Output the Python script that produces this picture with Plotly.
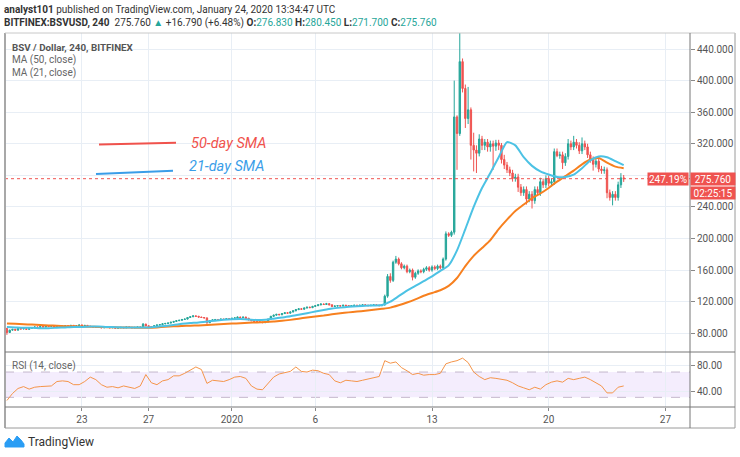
import plotly.graph_objects as go
import pandas as pd

# ---------------- data ----------------
first_open = 86.0
closes = [
    81, 84, 85, 84, 86, 85.5, 86, 85, 86.5, 87,
    88, 87.5, 88.5, 88, 89, 88.5, 89, 88, 89, 88.5,
    89, 89.5, 89, 90, 89, 89.5, 90.5, 89.5, 90, 89,
    88.5, 88, 87.5, 88, 87, 87.5, 88, 87, 87.5, 86.5,
    87, 87.5, 87, 88, 87.5, 87, 87.5, 88, 87.5, 91.5,
    89.5, 88.5, 88.5, 89.5, 90.5, 91, 92, 92.5, 93, 94,
    95, 96, 96.5, 97.5, 98, 100, 101, 102, 101.5, 100.5,
    100, 99.5, 93.5, 96, 97, 97.5, 97, 98, 97.5, 98.5,
    98, 99, 99.5, 100.5, 100, 100.5, 99, 97, 96, 95,
    94.5, 94, 93.5, 94.5, 98, 101.5, 103, 104, 103.5, 105,
    106, 105.5, 107, 108.5, 110, 111, 110.5, 112, 113, 112.5,
    114, 115, 116, 117, 116.5, 117.5, 116, 114, 114.5, 115,
    114.5, 115.5, 115, 114.5, 115, 115.5, 115, 115.5, 116, 115.5,
    115, 115.5, 116, 115.5, 115, 116, 127, 152, 147, 170,
    174, 168, 163, 165, 158, 160, 151, 156, 159, 158,
    161, 163, 160, 164, 162, 165, 163, 174, 206, 204,
    208, 354, 333, 424, 390, 352, 363, 318, 312, 308,
    326, 318, 322, 316, 320, 317, 321, 318, 300, 293,
    287, 283, 276, 278, 265, 258, 262, 250, 256, 248,
    262, 258, 272, 268, 276, 270, 272, 310, 305, 306,
    296, 304, 320, 316, 322, 318, 311, 320, 316, 306,
    300, 294, 298, 288, 286, 287, 258, 252, 256, 252,
    268, 276.83, 275.76,
]
wick_up = [
    1, .6, .6, .6, .6, .6, .6, .6, .6, .6,
    .6, .6, .6, .6, .6, .6, .6, .6, .6, .6,
    .6, .6, .6, .6, .6, .6, .6, .6, .6, .6,
    .6, .6, .6, .6, .6, .6, .6, .6, .6, .6,
    .6, .6, .6, .6, .6, .6, .6, .6, .6, 1.5,
    .8, .6, .6, .6, .6, .6, .6, .6, .6, .6,
    .6, .6, .6, .6, .6, .6, .6, 1, .6, .6,
    .6, .6, .6, .6, .6, .6, .6, .6, .6, .6,
    .6, .6, .6, .6, .6, .6, .6, .6, .6, .6,
    .6, .6, .6, .6, .6, .6, .6, .6, .6, .6,
    .8, .8, .8, .8, .8, .8, .8, .8, .8, .8,
    .8, .8, .8, 1, .8, 1, .8, .8, .8, .8,
    .6, .6, .6, .6, .6, .6, .6, .6, .6, .6,
    .6, .6, .6, .6, .6, .6, 2, 3, 4, 2,
    4, 2, 2, 2, 2, 2, 2, 2, 2, 2,
    2, 2, 2, 2, 2, 2, 2, 2, 3, 2,
    2, 46, 2, 41, 4, 5, 29, 3, 16, 6,
    6, 4, 4, 4, 4, 4, 4, 4, 3, 6,
    4, 4, 4, 4, 4, 4, 4, 4, 4, 4,
    4, 4, 5, 4, 4, 4, 4, 4, 4, 4,
    4, 4, 6, 4, 8, 4, 4, 8, 4, 4,
    4, 4, 4, 4, 4, 4, 3, 4, 4, 4,
    4, 6, 3.62,
]
wick_dn = [
    3, .6, .6, .6, .6, .6, .6, .6, .6, .6,
    .6, .6, .6, .6, .6, .6, .6, .6, .6, .6,
    .6, .6, .6, .6, .6, .6, .6, .6, .6, .6,
    .6, .6, .6, .6, .6, .6, .6, .6, .6, .6,
    .6, .6, .6, .6, .6, .6, .6, .6, .6, .6,
    .6, .6, .6, .6, .6, .6, .6, .6, .6, .6,
    .6, .6, .6, .6, .6, .6, .6, .6, .6, .6,
    .6, .6, 1.5, .6, .6, .6, .6, .6, .6, .6,
    .6, .6, .6, .6, .6, .6, .6, .6, .6, .6,
    .6, .6, .6, .6, .6, .6, .6, .6, .6, .6,
    .6, .6, .6, .6, .6, .6, .6, .6, .6, .6,
    .6, .6, .6, .6, .6, .6, .6, .6, .6, .6,
    .6, .6, .6, .6, .6, .6, .6, .6, .6, .6,
    .6, .6, .6, .6, .6, .6, 1, 2, 3, 2,
    2, 2, 2, 2, 2, 2, 4, 2, 2, 2,
    2, 2, 2, 2, 2, 2, 2, 2, 2, 2,
    2, 3, 46, 3, 5, 12, 7, 18, 27, 25,
    4, 6, 6, 6, 6, 30, 6, 6, 5, 5,
    4, 4, 4, 4, 6, 4, 4, 7, 4, 10,
    4, 4, 4, 4, 4, 4, 4, 4, 2, 4,
    8, 4, 4, 4, 4, 4, 4, 4, 4, 4,
    4, 8, 4, 4, 4, 4, 7, 4, 10, 4,
    4, 4, 4.06,
]
# RSI(14), one reading every second 4h candle
rsi_vals = [
    25, 36, 44, 47, 43, 46, 47, 47, 48, 55,
    56, 55, 50, 50, 55, 62, 58, 50, 46, 47,
    45, 48, 46, 44, 48, 66, 53, 50, 56, 58,
    64, 64, 68, 73, 78, 74, 52, 57, 56, 55,
    58, 62, 63, 60, 48, 43, 42, 52, 62, 67,
    69, 71, 78, 71, 70, 73, 72, 68, 66, 56,
    53, 57, 56, 55, 57, 59, 61, 63, 88, 84,
    86, 77, 72, 66, 68, 65, 66, 66, 68, 83,
    86, 88, 92, 85, 70, 63, 58, 61, 60, 59,
    57, 53, 48, 45, 42, 46, 43, 50, 54, 56,
    54, 60, 58, 60, 62, 58, 53, 48, 37, 37,
    46, 48,
]
# moving averages, one reading every third candle
ma21 = [
    88, 87.5, 87, 87, 86.5, 86.5, 87, 87.5, 88, 88,
    88.5, 88.5, 88, 87.8, 87.5, 87.3, 87.3, 87.5, 88.3, 89.3,
    90.5, 92, 93, 93.8, 95, 96, 97, 97.7, 98, 97.5,
    96.8, 97.2, 98.5, 100, 101.5, 103.5, 105.5, 107.5, 109.5, 111.3,
    112.5, 113.5, 114.3, 115, 115.3, 115.8, 120, 127, 134, 140,
    146, 152, 159, 166, 185, 212, 240, 264, 283, 303,
    322, 318, 303, 292, 285, 281, 278, 278, 281, 289,
    299, 304, 303, 298, 293,
]
ma50 = [
    92.5, 92, 91.5, 91, 90.5, 90, 89.5, 89, 88.8, 88.5,
    88.3, 88, 87.8, 87.6, 87.4, 87.2, 87.1, 87, 87.5, 88.2,
    88.8, 89.3, 89.7, 90, 90.5, 91, 91.7, 92.3, 92.8, 93.3,
    93.8, 94.3, 95, 95.8, 97, 98.5, 100, 101.3, 102.5, 104,
    105.3, 106.5, 107.5, 108.5, 109.7, 111, 112.5, 115.5, 119, 123,
    127.5, 131, 134.5, 140, 150, 165, 178, 188, 198, 212,
    224, 235, 243, 251, 257, 264, 272, 279, 286, 294,
    300, 302, 296, 291, 289,
]
date_ticks = ["2019-12-23", "2019-12-27", "2020-01-01", "2020-01-06",
              "2020-01-13", "2020-01-20", "2020-01-27"]
date_labels = ["23", "27", "2020", "6", "13", "20", "27"]
price_ticks = [80, 120, 160, 200, 240, 280, 320, 360, 400, 440]
# the 280 label sits hidden behind the last-price tag in the original
price_labels = ["80.000", "120.000", "160.000", "200.000", "240.000", "",
                "320.000", "360.000", "400.000", "440.000"]
rsi_ticks = [40, 80]
last_price = 275.76

# ---------------- derived ----------------
times = pd.date_range("2019-12-18 12:00", periods=len(closes), freq="4h")
opens = [first_open] + closes[:-1]
highs = [max(o, c) + u for o, c, u in zip(opens, closes, wick_up)]
lows = [min(o, c) - d for o, c, d in zip(opens, closes, wick_dn)]
rsi_times = times[::2][:len(rsi_vals)]
ma_times = times[::3][:len(ma21)]

UP = "#26a69a"
DN = "#ef5350"
GRID = "#e8eef5"
FRAME = "#9a9a9a"
FONT = "Roboto"

W, H = 740, 457
ML, MR, MT, MB = 5, 50, 33, 50
PW, PH = W - ML - MR, H - MT - MB


def X(px):
    return (px - ML) / PW


def Y(py):
    return (H - MB - py) / PH


SPLIT = Y(352)

fig = go.Figure()
fig.add_trace(go.Candlestick(
    x=times, open=opens, high=highs, low=lows, close=closes,
    xaxis="x", yaxis="y",
    increasing=dict(line=dict(color=UP, width=1), fillcolor=UP),
    decreasing=dict(line=dict(color=DN, width=1), fillcolor=DN),
    hoverinfo="skip", showlegend=False,
))
fig.add_trace(go.Scatter(x=ma_times, y=ma50, mode="lines", xaxis="x", yaxis="y",
                         line=dict(color="#f7801f", width=2, shape="spline", smoothing=0.6),
                         hoverinfo="skip", showlegend=False))
fig.add_trace(go.Scatter(x=ma_times, y=ma21, mode="lines", xaxis="x", yaxis="y",
                         line=dict(color="#4cc2e4", width=2, shape="spline", smoothing=0.6),
                         hoverinfo="skip", showlegend=False))
fig.add_trace(go.Scatter(x=rsi_times, y=rsi_vals, mode="lines", xaxis="x2", yaxis="y2",
                         line=dict(color="#f5954a", width=1),
                         hoverinfo="skip", showlegend=False))

x_range = ["2019-12-18 09:14", "2020-01-28 11:27"]

shapes = []
# RSI band
shapes.append(dict(type="rect", xref="paper", yref="y2", x0=0, x1=1, y0=30, y1=70,
                   fillcolor="rgba(150,80,240,0.10)", line=dict(width=0), layer="below"))
for lv in (30, 70):
    shapes.append(dict(type="line", xref="paper", yref="y2", x0=0, x1=1, y0=lv, y1=lv,
                       line=dict(color="#c4b6cc", width=1, dash="dash"), layer="below"))
# current price dotted line
shapes.append(dict(type="line", xref="paper", yref="y", x0=0, x1=1, y0=last_price, y1=last_price,
                   line=dict(color=DN, width=1, dash="dot")))
# frame
bot = Y(428)
right = X(735)
for (x0, y0, x1, y1, w, c) in [
    (0, bot, 0, 1, 2, "#a8a8a8"),
    (right, bot, right, 1, 1, FRAME),
    (0, bot, right, bot, 1, FRAME),
    (0, 1, right, 1, 1, "#c8c8c8"),
    (1, bot, 1, 1, 1, "#777777"),
    (0, SPLIT, right, SPLIT, 1, "#777777"),
    (0, 0, right, 0, 1, "#777777"),
]:
    shapes.append(dict(type="line", xref="paper", yref="paper", x0=x0, y0=y0, x1=x1, y1=y1,
                       line=dict(color=c, width=w)))
# hand-drawn SMA markers
shapes.append(dict(type="line", xref="paper", yref="paper", x0=X(99), y0=Y(144.5), x1=X(176), y1=Y(142.7),
                   line=dict(color="#f0524c", width=2)))
shapes.append(dict(type="line", xref="paper", yref="paper", x0=X(96), y0=Y(174), x1=X(173), y1=Y(170.8),
                   line=dict(color="#3a9de8", width=2)))
# TradingView logo icon
pts = [(5, 447), (5, 443), (9, 438), (13, 442), (17, 436), (21, 440), (24, 444), (24, 447)]
path = "M " + " L ".join(f"{X(a):.5f},{Y(b):.5f}" for a, b in pts) + " Z"
shapes.append(dict(type="path", xref="paper", yref="paper", path=path,
                   fillcolor="#2a9df4", line=dict(color="#2a9df4", width=1)))

ann = []


def text(px, py, s, size=10, color="#444", xanchor="left", **kw):
    ann.append(dict(x=X(px), y=Y(py), xref="paper", yref="paper", text=s, showarrow=False,
                    xanchor=xanchor, yanchor="middle", font=dict(family=FONT, size=size, color=color), **kw))


G = "#26a69a"
text(2, 10, "<b>analyst101</b> published on TradingView.com, January 24, 2020 13:34:47 UTC",
     size=10, color="#333")
text(2, 23, "<b>BITFINEX:BSVUSD, 240</b>  275.760 "
     f"<span style='color:{G}'>▲</span> +16.790 (+6.48%) "
     f"<b>O:</b><span style='color:{G}'>276.830</span> "
     f"<b>H:</b><span style='color:{G}'>280.450</span> "
     f"<b>L:</b><span style='color:{G}'>271.700</span> "
     f"<b>C:</b><span style='color:{G}'>275.760</span>",
     size=10, color="#333")
text(10, 47, "<b>BSV / Dollar, 240, BITFINEX</b>", size=9.8, color="#555")
text(10, 60.5, "MA (50, close)", size=10, color="#666")
text(10, 73, "MA (21, close)", size=10, color="#666")
text(10, 366, "RSI (14, close)", size=10, color="#666")
text(189, 143, "<i>50-day SMA</i>", size=14.5, color="#f0524c")
text(187, 166, "<i>21-day SMA</i>", size=14.5, color="#3a9de8")
text(26, 442, "TradingView", size=12, color="#333")

# price labels
ann.append(dict(x=X(668), y=last_price, xref="paper", yref="y", text="247.19%", showarrow=False,
                xanchor="center", yanchor="middle", bgcolor=DN, width=38, height=10,
                font=dict(family=FONT, size=10, color="white")))
ann.append(dict(x=X(713), y=last_price, xref="paper", yref="y", text="275.760", showarrow=False,
                xanchor="center", yanchor="middle", bgcolor=DN, width=42, height=10,
                font=dict(family=FONT, size=10, color="white")))
ann.append(dict(x=X(713), y=Y(192.8), xref="paper", yref="paper", text="02:25:15", showarrow=False,
                xanchor="center", yanchor="middle", bgcolor=DN, width=42, height=10,
                font=dict(family=FONT, size=10, color="white")))

axfont = dict(family=FONT, size=10, color="#555")
fig.update_layout(
    width=W, height=H,
    margin=dict(l=ML, r=MR, t=MT, b=MB),
    paper_bgcolor="white", plot_bgcolor="white",
    showlegend=False, hovermode=False,
    shapes=shapes, annotations=ann,
    xaxis=dict(domain=[0, 1], anchor="y", type="date", range=x_range,
               tickvals=date_ticks, showticklabels=False, ticks="",
               showgrid=True, gridcolor=GRID, zeroline=False, showline=False,
               rangeslider=dict(visible=False), fixedrange=True),
    xaxis2=dict(domain=[0, 1], anchor="y2", type="date", range=x_range, matches="x",
                tickvals=date_ticks, ticktext=date_labels, ticks="outside", ticklen=3,
                tickcolor="#888", tickfont=axfont, showgrid=True, gridcolor=GRID,
                zeroline=False, showline=False),
    yaxis=dict(domain=[SPLIT, 1], anchor="x", side="right", range=[56.32, 460.26],
               tickvals=price_ticks, ticktext=price_labels, ticks="outside", ticklen=4,
               tickcolor="#888", tickfont=axfont, showgrid=True, gridcolor=GRID,
               zeroline=False, showline=False),
    yaxis2=dict(domain=[0, SPLIT], anchor="x2", side="right", range=[14.7, 101.7],
                tickvals=rsi_ticks, tickformat=".2f", ticks="outside", ticklen=4,
                tickcolor="#888", tickfont=axfont, showgrid=True, gridcolor=GRID,
                zeroline=False, showline=False),
)

fig.write_html("out.html", config={"displayModeBar": False},
               post_script="document.body.style.margin='0';")
